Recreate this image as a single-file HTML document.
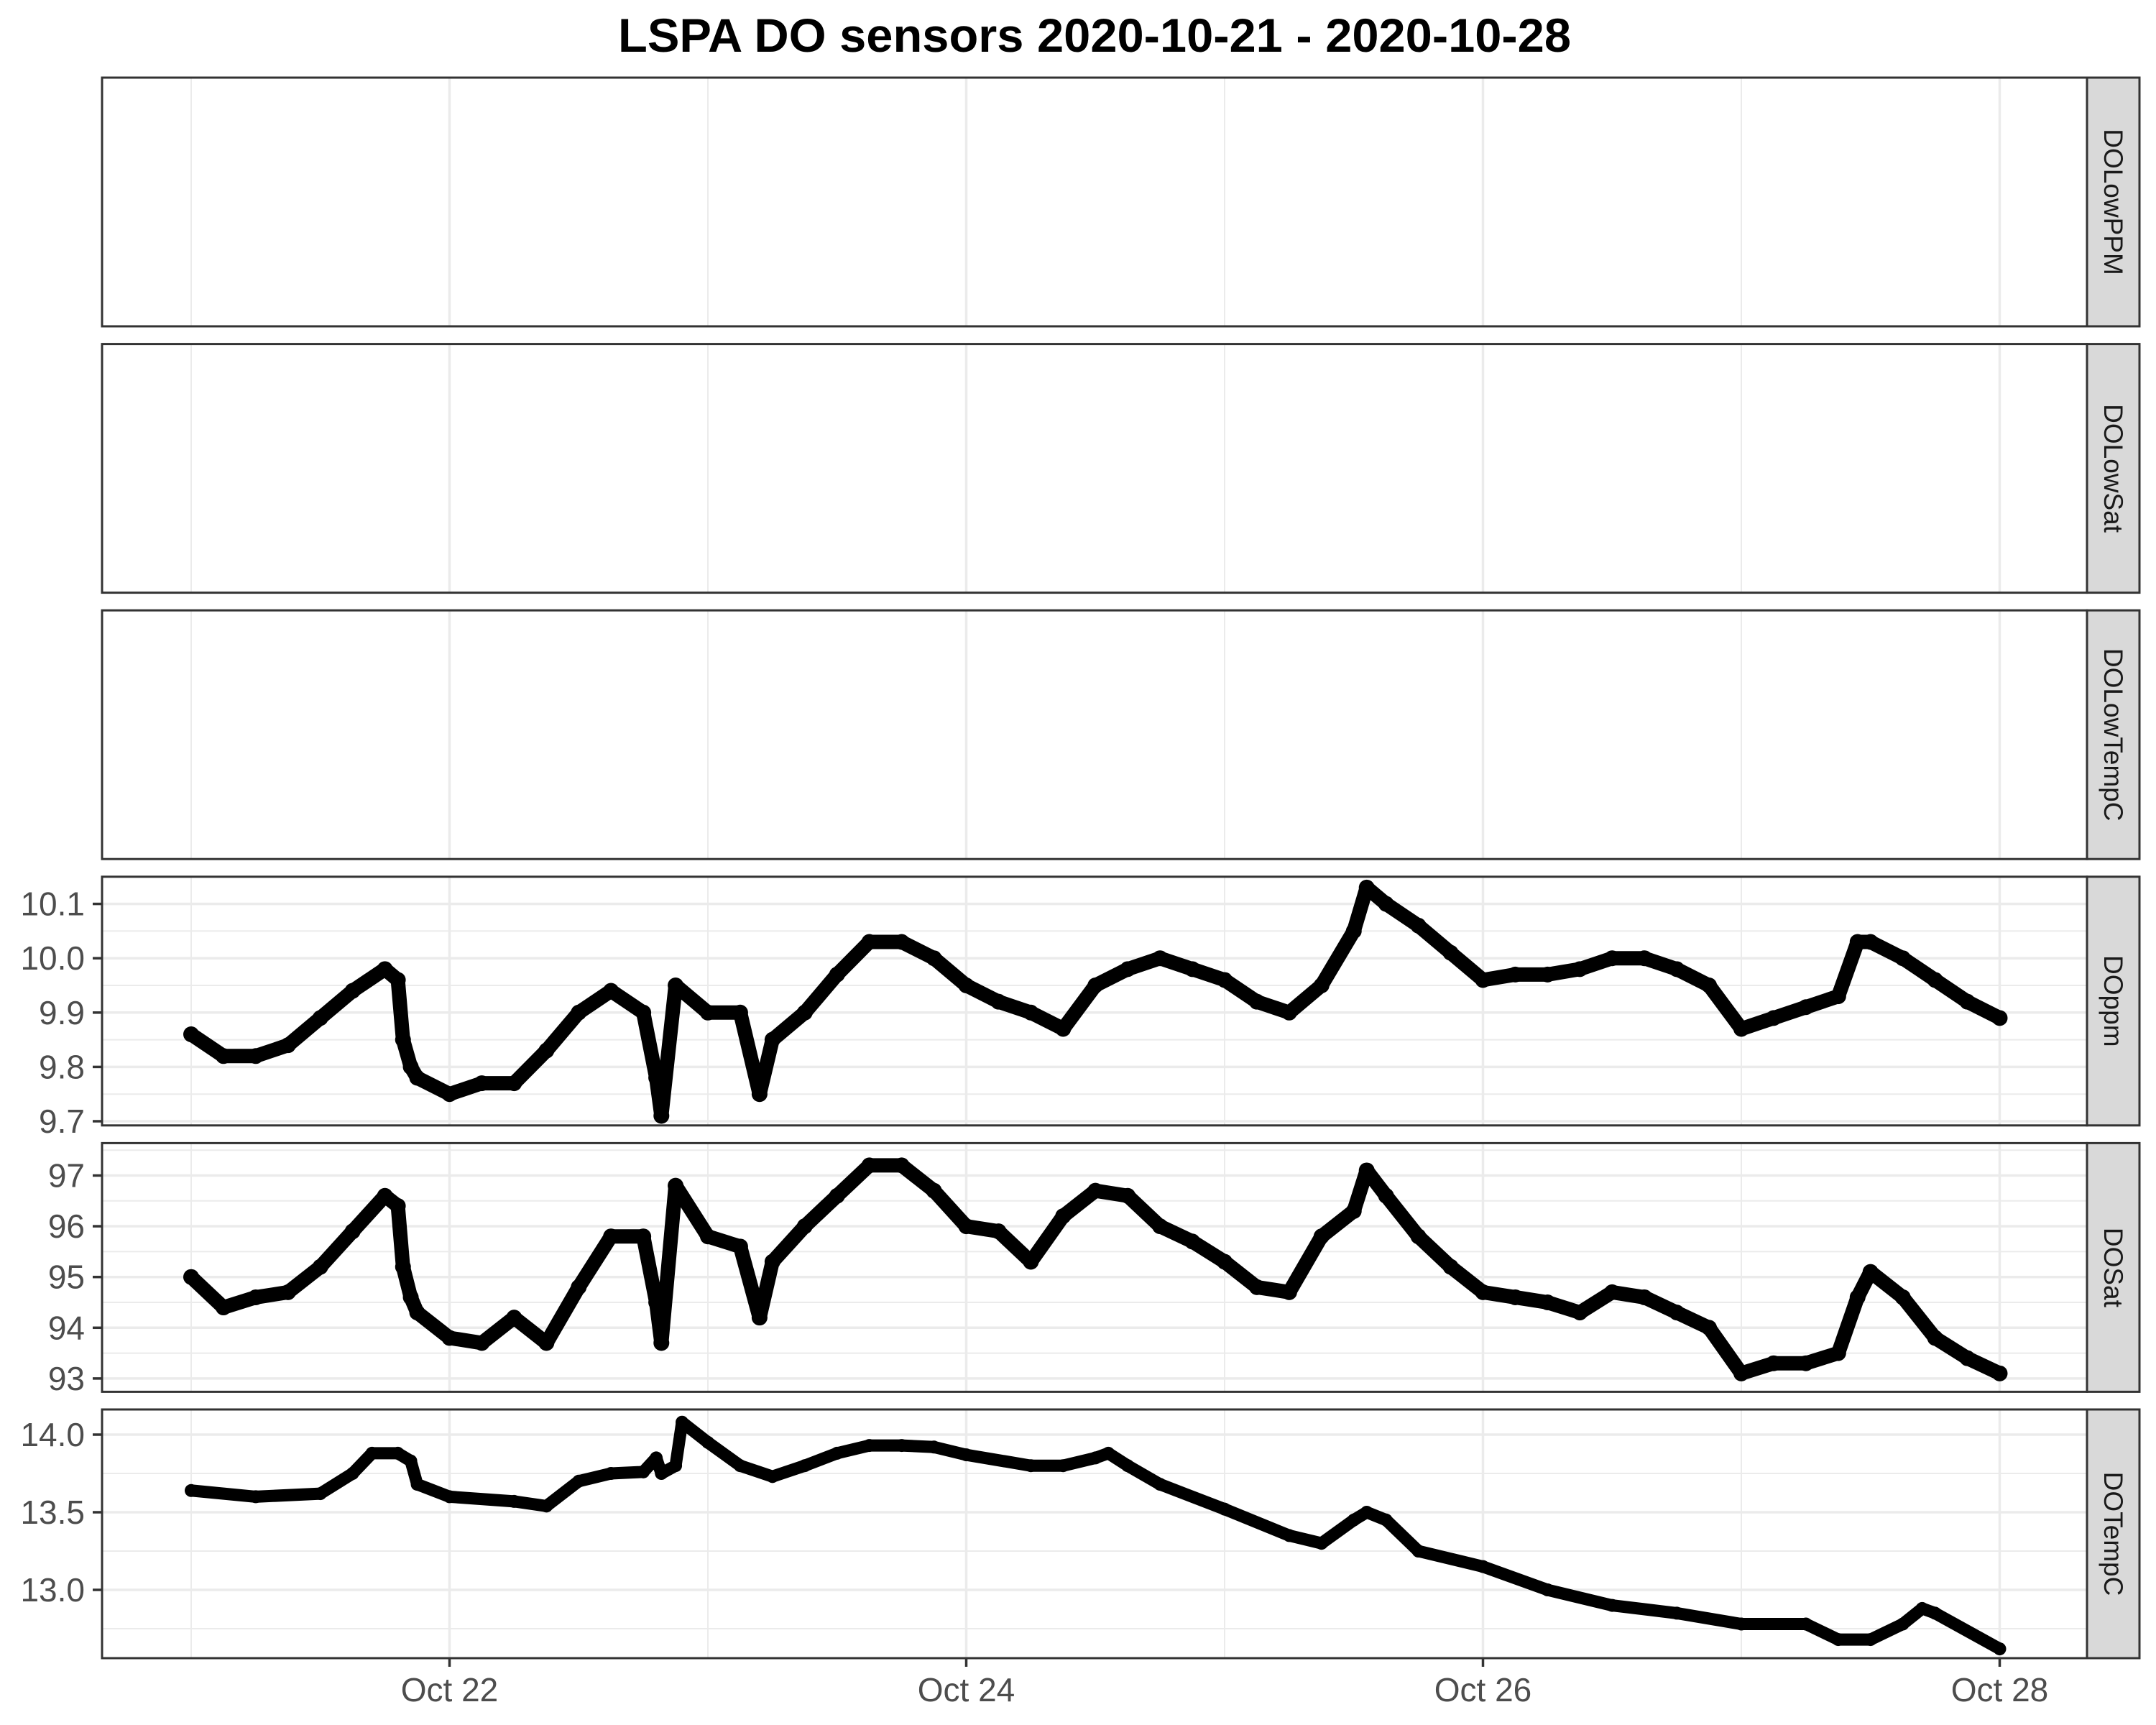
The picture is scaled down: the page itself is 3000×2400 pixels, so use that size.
<!DOCTYPE html>
<html><head><meta charset="utf-8"><style>
html,body{margin:0;padding:0;background:#fff}
svg{display:block}
</style></head><body>
<svg id="chart" width="3000" height="2400" xmlns="http://www.w3.org/2000/svg" font-family="Liberation Sans, Arial, sans-serif">
<text x="1523" y="72" text-anchor="middle" font-size="66" font-weight="bold" textLength="1326" lengthAdjust="spacingAndGlyphs" fill="#000">LSPA DO sensors 2020-10-21 - 2020-10-28</text>
<g id="panels"></g>
</svg>
<script>
// ---- data (time in days since 2020-10-21 00:00) ----
const ppmTimes = [0,0.125,0.25,0.375,0.5,0.625,0.75,0.8,0.82,0.85,0.875,1.0,1.125,1.25,1.375,1.5,1.625,1.75,1.8,1.82,1.875,2.0,2.125,2.2,2.25,2.375,2.5,2.625,2.75,2.875,3.0,3.125,3.25,3.375,3.5,3.625,3.75,3.875,4.0,4.125,4.25,4.375,4.5,4.55,4.625,4.75,4.875,5.0,5.125,5.25,5.375,5.5,5.625,5.75,5.875,6.0,6.125,6.25,6.375,6.45,6.5,6.625,6.75,6.875,7.0];
const ppmValues = [9.86,9.82,9.82,9.84,9.89,9.94,9.98,9.96,9.85,9.80,9.78,9.75,9.77,9.77,9.83,9.90,9.94,9.90,9.78,9.71,9.95,9.90,9.90,9.75,9.85,9.90,9.97,10.03,10.03,10.00,9.95,9.92,9.90,9.87,9.95,9.98,10.00,9.98,9.96,9.92,9.90,9.95,10.05,10.13,10.10,10.06,10.01,9.96,9.97,9.97,9.98,10.00,10.00,9.98,9.95,9.87,9.89,9.91,9.93,10.03,10.03,10.00,9.96,9.92,9.89];
const satValues = [95.0,94.4,94.6,94.7,95.2,95.9,96.6,96.4,95.2,94.6,94.3,93.8,93.7,94.2,93.7,94.8,95.8,95.8,94.5,93.7,96.8,95.8,95.6,94.2,95.3,96.0,96.6,97.2,97.2,96.7,96.0,95.9,95.3,96.2,96.7,96.6,96.0,95.7,95.3,94.8,94.7,95.8,96.3,97.1,96.6,95.8,95.2,94.7,94.6,94.5,94.3,94.7,94.6,94.3,94.0,93.1,93.3,93.3,93.5,94.6,95.1,94.6,93.8,93.4,93.1];
const tempTimes = [0,0.25,0.5,0.625,0.7,0.8,0.85,0.875,1.0,1.25,1.375,1.5,1.625,1.75,1.8,1.82,1.875,1.9,2.0,2.125,2.25,2.375,2.5,2.625,2.75,2.875,3.0,3.25,3.375,3.5,3.55,3.625,3.75,4.0,4.25,4.375,4.5,4.55,4.625,4.75,5.0,5.25,5.5,5.75,6.0,6.25,6.375,6.5,6.625,6.7,6.75,7.0];
const tempValues = [13.64,13.60,13.62,13.75,13.88,13.88,13.83,13.68,13.60,13.57,13.54,13.70,13.75,13.76,13.85,13.75,13.80,14.08,13.95,13.80,13.73,13.80,13.88,13.93,13.93,13.92,13.87,13.80,13.80,13.85,13.88,13.80,13.68,13.52,13.35,13.30,13.45,13.50,13.45,13.25,13.15,13.00,12.90,12.85,12.78,12.78,12.68,12.68,12.78,12.88,12.85,12.62];
const xTickLabels = ["Oct 22","Oct 24","Oct 26","Oct 28"];
const xTickDays = [1,3,5,7];
const facetNames = ["DOLowPPM","DOLowSat","DOLowTempC","DOppm","DOSat","DOTempC"];
const ppmTicks = [9.7,9.8,9.9,10.0,10.1];
const ppmTickLabels = ["9.7","9.8","9.9","10.0","10.1"];
const satTicks = [93,94,95,96,97];
const satTickLabels = ["93","94","95","96","97"];
const tempTicks = [13.0,13.5,14.0];
const tempTickLabels = ["13.0","13.5","14.0"];

const NS="http://www.w3.org/2000/svg";
const PL=142, PR=2904, STRIP_R=2977;
const day0X=266, dayW=359.5;
const xScale = d => day0X + d*dayW;
function el(tag, attrs, parent){const e=document.createElementNS(NS,tag);for(const k in attrs)e.setAttribute(k,attrs[k]);parent.appendChild(e);return e;}
const root=document.getElementById('panels');

const panelTop = i => 108 + i*370.6;
const panelH = 346;

const yScales = {
  3: v => 1560 - (v-9.7)*756,
  4: v => 1635.5 - (v-97)*70.6,
  5: v => 1996 - (v-14)*216
};
const minorTicks = {
  3: [9.75,9.85,9.95,10.05],
  4: [93.5,94.5,95.5,96.5,97.5],
  5: [12.75,13.25,13.75]
};
const majorTicks = {3: ppmTicks, 4: satTicks, 5: tempTicks};
const majorLabels = {3: ppmTickLabels, 4: satTickLabels, 5: tempTickLabels};

facetNames.forEach((name,i)=>{
  const top=panelTop(i), bot=top+panelH;
  const g=el('g',{},root);
  
  
  el('rect',{x:PL,y:top,width:PR-PL,height:panelH,fill:'#fff'},g);
  if(yScales[i]){
    minorTicks[i].forEach(v=>{const y=yScales[i](v); if(y>top&&y<bot) el('line',{x1:PL,x2:PR,y1:y,y2:y,stroke:'#ebebeb','stroke-width':2},g);});
    majorTicks[i].forEach(v=>{const y=yScales[i](v); el('line',{x1:PL,x2:PR,y1:y,y2:y,stroke:'#ebebeb','stroke-width':3.5},g);});
  }
  for(let d=0; d<=7; d++){
    const x=xScale(d);
    el('line',{x1:x,x2:x,y1:top,y2:bot,stroke:'#ebebeb','stroke-width':d%2===1?3.5:2},g);
  }
  const data = i===3?[ppmTimes,ppmValues]: i===4?[ppmTimes,satValues]: i===5?[tempTimes,tempValues]:null;
  if(data){
    const [ts,vs]=data; const ys=yScales[i];
    const pts=ts.map((t,k)=>xScale(t)+','+ys(vs[k])).join(' ');
    const line=el('polyline',{points:pts,fill:'none',stroke:'#000','stroke-width':i===5?17:20,'stroke-linejoin':'round','stroke-linecap':'round'},g);
    
    
    ts.forEach((t,k)=>{
      const c=el('circle',{cx:xScale(t),cy:ys(vs[k]),r:i===5?9:11,fill:'#000'},g);
      
      
    });
    majorTicks[i].forEach((v,k)=>{
      const y=ys(v);
      el('line',{x1:129,x2:PL,y1:y,y2:y,stroke:'#333','stroke-width':3.5},g);
      const tx=el('text',{x:118,y:y+16,'text-anchor':'end','font-size':46,fill:'#4d4d4d'},g);
      tx.textContent=majorLabels[i][k];
      
      
    });
  }
  el('rect',{x:PL,y:top,width:PR-PL,height:panelH,fill:'none',stroke:'#333','stroke-width':3},g);
  const sr=el('rect',{x:PR,y:top,width:STRIP_R-PR,height:panelH,fill:'#d9d9d9',stroke:'#333','stroke-width':3},g);
  
  
  const cx=(PR+STRIP_R)/2, cy=top+panelH/2;
  const st=el('text',{x:cx,y:cy,'text-anchor':'middle','dominant-baseline':'central','font-size':37,fill:'#1a1a1a',transform:`rotate(90 ${cx} ${cy})`},g);
  st.textContent=name;
  
  
});

const bottom = panelTop(5)+panelH;
const xa=el('g',{},root);


xTickDays.forEach((d,k)=>{
  const x=xScale(d);
  el('line',{x1:x,x2:x,y1:bottom,y2:bottom+12,stroke:'#333','stroke-width':3.5},xa);
  const t=el('text',{x:x,y:bottom+60,'text-anchor':'middle','font-size':46,fill:'#4d4d4d'},xa);
  t.textContent=xTickLabels[k];
  
  
});
</script>
</body></html>
